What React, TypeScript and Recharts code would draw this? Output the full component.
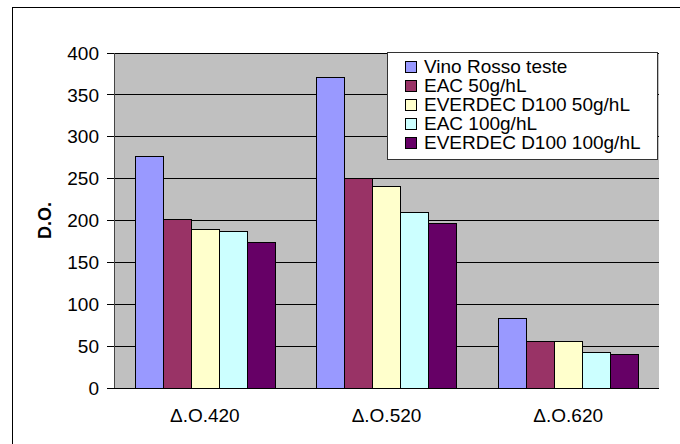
import React from "react";
import {
  BarChart,
  Bar,
  XAxis,
  YAxis,
  CartesianGrid,
  Legend,
} from "recharts";

const CATEGORIES = ["Δ.O.420", "Δ.O.520", "Δ.O.620"];
const VINO_ROSSO = [277, 371, 83];
const EAC_50 = [201, 250, 56];
const EVERDEC_50 = [189, 241, 56];
const EAC_100 = [187, 210, 42];
const EVERDEC_100 = [174, 197, 40];
const Y_TICKS = [0, 50, 100, 150, 200, 250, 300, 350, 400];
const CATEGORY_BOUNDS = [0, 1, 2, 3];

const SERIES = [
  { key: "vino", label: "Vino Rosso teste", color: "#9999FF", values: VINO_ROSSO },
  { key: "eac50", label: "EAC 50g/hL", color: "#993366", values: EAC_50 },
  { key: "ev50", label: "EVERDEC D100 50g/hL", color: "#FFFFCC", values: EVERDEC_50 },
  { key: "eac100", label: "EAC 100g/hL", color: "#CCFFFF", values: EAC_100 },
  { key: "ev100", label: "EVERDEC D100 100g/hL", color: "#660066", values: EVERDEC_100 },
];

const data = CATEGORIES.map((name, i) => {
  const row: Record<string, string | number> = { name };
  SERIES.forEach((s) => (row[s.key] = s.values[i]));
  return row;
});

const FONT = "'Liberation Sans', Arial, sans-serif";
const seriesOrder = (label: string) => SERIES.findIndex((s) => s.label === label);

// page reset + crisp 1px lines like the original spreadsheet export
const PAGE_CSS = `
body { margin: 0; }
.recharts-cartesian-grid line,
.recharts-cartesian-axis line,
.recharts-bar-rectangle path { shape-rendering: crispEdges; }
`;

function LegendBox({ payload }: any) {
  // keep the legend in series order (recharts sorts by name otherwise)
  const items = [...(payload || [])].sort(
    (a: any, b: any) => seriesOrder(a.value) - seriesOrder(b.value)
  );
  return (
    <div
      style={{
        boxSizing: "border-box",
        width: 271,
        height: 108,
        border: "1px solid #333",
        background: "#fff",
        padding: "4px 0 0 17px",
        fontFamily: FONT,
        fontSize: 19,
        lineHeight: "19px",
        color: "#000",
        textAlign: "left",
      }}
    >
      {items.map((p: any) => (
        <div key={p.value} style={{ display: "flex", alignItems: "center", height: 19 }}>
          <span
            style={{
              display: "inline-block",
              width: 10,
              height: 10,
              border: "1px solid #000",
              background: p.color,
              marginRight: 7,
            }}
          />
          <span style={{ whiteSpace: "nowrap" }}>{p.value}</span>
        </div>
      ))}
    </div>
  );
}

function YTitle({ viewBox }: any) {
  const x = viewBox.x + 45;
  const y = viewBox.y + viewBox.height / 2;
  return (
    <text
      x={x}
      y={y}
      transform={`rotate(-90 ${x} ${y})`}
      textAnchor="middle"
      dominantBaseline="central"
      fontFamily={FONT}
      fontSize={18}
      fontWeight="bold"
      fill="#000"
    >
      D.O.
    </text>
  );
}

export default function App() {
  return (
    <div
      style={{
        position: "relative",
        width: 680,
        height: 444,
        overflow: "hidden",
        background: "#fff",
      }}
    >
      <style>{PAGE_CSS}</style>
      <div
        style={{
          position: "absolute",
          left: 12,
          top: 7,
          width: 720,
          height: 480,
          border: "1.5px solid #000",
        }}
      />
      <div style={{ position: "absolute", left: 0, top: 0 }}>
        <BarChart
          width={680}
          height={444}
          data={data}
          margin={{ top: 53, right: 21, bottom: 26, left: 0 }}
          barGap={0}
          barCategoryGap={21}
        >
          <CartesianGrid
            vertical={false}
            stroke="#000"
            strokeWidth={1}
            fill="#C0C0C0"
            horizontalValues={Y_TICKS}
          />
          <XAxis
            xAxisId="bounds"
            type="number"
            domain={[0, 3]}
            ticks={CATEGORY_BOUNDS}
            allowDataOverflow
            tick={false}
            tickSize={6}
            tickLine={{ stroke: "#000" }}
            axisLine={false}
            height={0}
          />
          <XAxis
            dataKey="name"
            height={30}
            tickLine={false}
            tickSize={6}
            tickMargin={15}
            axisLine={{ stroke: "#000" }}
            tick={{ fill: "#000", fontSize: 19, fontFamily: FONT }}
          />
          <YAxis
            width={114}
            domain={[0, 400]}
            ticks={Y_TICKS}
            interval={0}
            tickSize={7}
            tickMargin={8}
            axisLine={{ stroke: "#444" }}
            tickLine={{ stroke: "#000" }}
            tick={{ fill: "#000", fontSize: 19, fontFamily: FONT }}
            label={<YTitle />}
          />
          <Legend
            layout="vertical"
            align="center"
            verticalAlign="middle"
            itemSorter={null}
            content={<LegendBox />}
            wrapperStyle={{ left: 387, top: 52, width: 271, height: 108 }}
          />
          {SERIES.map((s) => (
            <Bar
              key={s.key}
              dataKey={s.key}
              name={s.label}
              fill={s.color}
              stroke="#000"
              strokeWidth={1}
              isAnimationActive={false}
            />
          ))}
        </BarChart>
      </div>
    </div>
  );
}
